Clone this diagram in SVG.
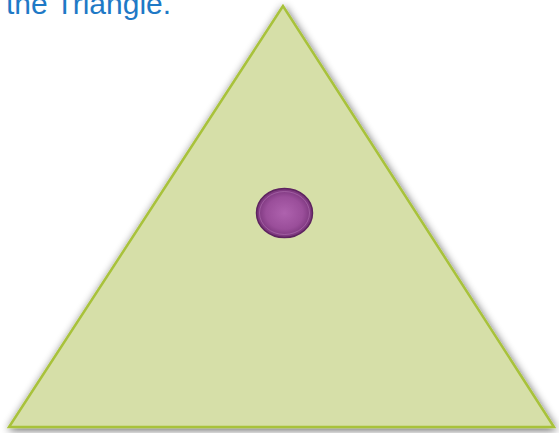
<svg xmlns="http://www.w3.org/2000/svg" width="559" height="433" viewBox="0 0 559 433">
<style>
.title{font-family:"Liberation Sans","Open Sans",sans-serif;font-size:30px;fill:#1E79C6}
.tri{fill:#D6DFA8;stroke:#A8C23A;stroke-width:2.5;stroke-linejoin:miter}
</style>
<defs>
<filter id="sh" x="-10%" y="-10%" width="120%" height="120%">
<feGaussianBlur in="SourceAlpha" stdDeviation="4"/>
<feOffset dx="1" dy="2" result="b"/>
<feComponentTransfer><feFuncA type="linear" slope="0.6"/></feComponentTransfer>
<feMerge><feMergeNode/><feMergeNode in="SourceGraphic"/></feMerge>
</filter>
<radialGradient id="pg" cx="50%" cy="50%" r="55%">
<stop offset="0" stop-color="#AE62AE"/>
<stop offset="0.6" stop-color="#9A4E9A"/>
<stop offset="1" stop-color="#6E2C70"/>
</radialGradient>
</defs>
<text class="title" x="6" y="13.5">the Triangle.</text>
<g id="triangle">
<polygon class="tri" points="283,6 9,427 554,427" filter="url(#sh)"/>
</g>
<g id="dot">
<ellipse cx="284.5" cy="213" rx="28" ry="24.5" fill="url(#pg)" stroke="#5E2460" stroke-width="1.5"/>
<ellipse cx="284.5" cy="213" rx="25" ry="21.5" fill="none" stroke="#C88CC8" stroke-opacity="0.5" stroke-width="0.8"/>
</g>
<g id="connectors"/>
</svg>
